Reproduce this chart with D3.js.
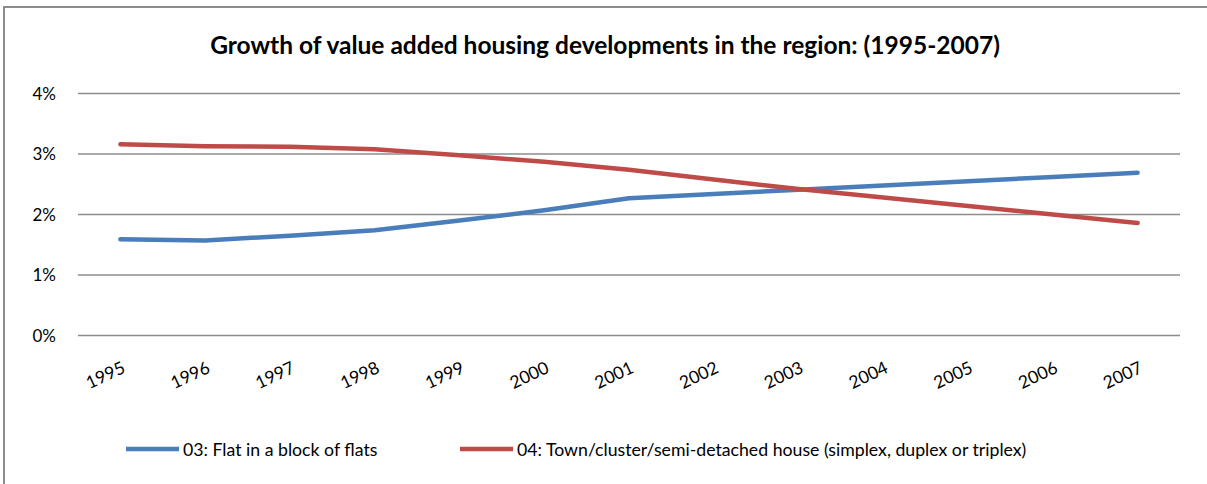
<!DOCTYPE html>
<html>
<head>
<meta charset="utf-8">
<script src="https://cdn.jsdelivr.net/npm/d3@7"></script>
<style>
  body { margin: 0; background: #fff; overflow: hidden; }
  svg { display: block; }
  text { font-family: Lato, "Open Sans", sans-serif; fill: #000; }
</style>
</head>
<body>
<div id="chart"></div>
<script>
var years = ['1995', '1996', '1997', '1998', '1999', '2000', '2001',
             '2002', '2003', '2004', '2005', '2006', '2007'];
var flats = [1.59, 1.57, 1.65, 1.74, 1.90, 2.07, 2.27, 2.34, 2.41, 2.48, 2.55, 2.62, 2.69];
var houses = [3.16, 3.13, 3.12, 3.08, 2.98, 2.87, 2.74, 2.58, 2.42, 2.28, 2.14, 2.00, 1.86];
var yTicks = [0, 1, 2, 3, 4];
var seriesNames = ['03: Flat in a block of flats',
                   '04: Town/cluster/semi-detached house (simplex, duplex or triplex)'];
var seriesColors = ['#4a7ebb', '#be4b48'];

var width = 1207, height = 484;
var svg = d3.select('#chart').append('svg')
  .attr('width', width).attr('height', height);

// outer chart frame: only top and left edges are inside the picture
svg.append('path')
  .attr('d', 'M4,' + height + 'V7H' + width)
  .attr('fill', 'none')
  .attr('stroke', '#8c8c8c')
  .attr('stroke-width', 2);

svg.append('text')
  .attr('x', 605).attr('y', 54)
  .attr('text-anchor', 'middle')
  .style('font-size', '24.5px')
  .style('font-weight', 'bold')
  .text('Growth of value added housing developments in the region: (1995-2007)');

var x = d3.scaleBand().domain(years).range([78, 1180]);
var y = d3.scaleLinear().domain([0, 4]).range([335.5, 93.5]);

// gridlines
svg.append('g').selectAll('line').data(yTicks).enter()
  .append('line')
  .attr('x1', 78).attr('x2', 1180)
  .attr('y1', function(d) { return y(d); })
  .attr('y2', function(d) { return y(d); })
  .attr('stroke', '#8c8c8c')
  .attr('stroke-width', 1.5);

// y labels
svg.append('g').selectAll('text').data(yTicks).enter()
  .append('text')
  .attr('x', 56)
  .attr('y', function(d) { return y(d) + 6; })
  .attr('text-anchor', 'end')
  .style('font-size', '17px')
  .text(function(d) { return d + '%'; });

// x labels, rotated
svg.append('g').selectAll('text').data(years).enter()
  .append('text')
  .attr('text-anchor', 'end')
  .attr('transform', function(d) {
    return 'translate(' + (x(d) + x.bandwidth() / 2 + 6) + ',372) rotate(-25)';
  })
  .style('font-size', '17.5px')
  .text(function(d) { return d; });

var line = d3.line()
  .x(function(d, i) { return x(years[i]) + x.bandwidth() / 2; })
  .y(function(d) { return y(d); });

[flats, houses].forEach(function(s, i) {
  svg.append('path')
    .datum(s)
    .attr('d', line)
    .attr('fill', 'none')
    .attr('stroke', seriesColors[i])
    .attr('stroke-width', 4.5)
    .attr('stroke-linecap', 'round')
    .attr('stroke-linejoin', 'round');
});

// legend
var legendX = [126, 460];
seriesNames.forEach(function(name, i) {
  var g = svg.append('g').attr('transform', 'translate(' + legendX[i] + ',449)');
  g.append('line')
    .attr('x1', 0).attr('x2', 53)
    .attr('stroke', seriesColors[i])
    .attr('stroke-width', 4.5);
  g.append('text')
    .attr('x', 57).attr('y', 7)
    .style('font-size', '17.7px')
    .text(name);
});
</script>
</body>
</html>
